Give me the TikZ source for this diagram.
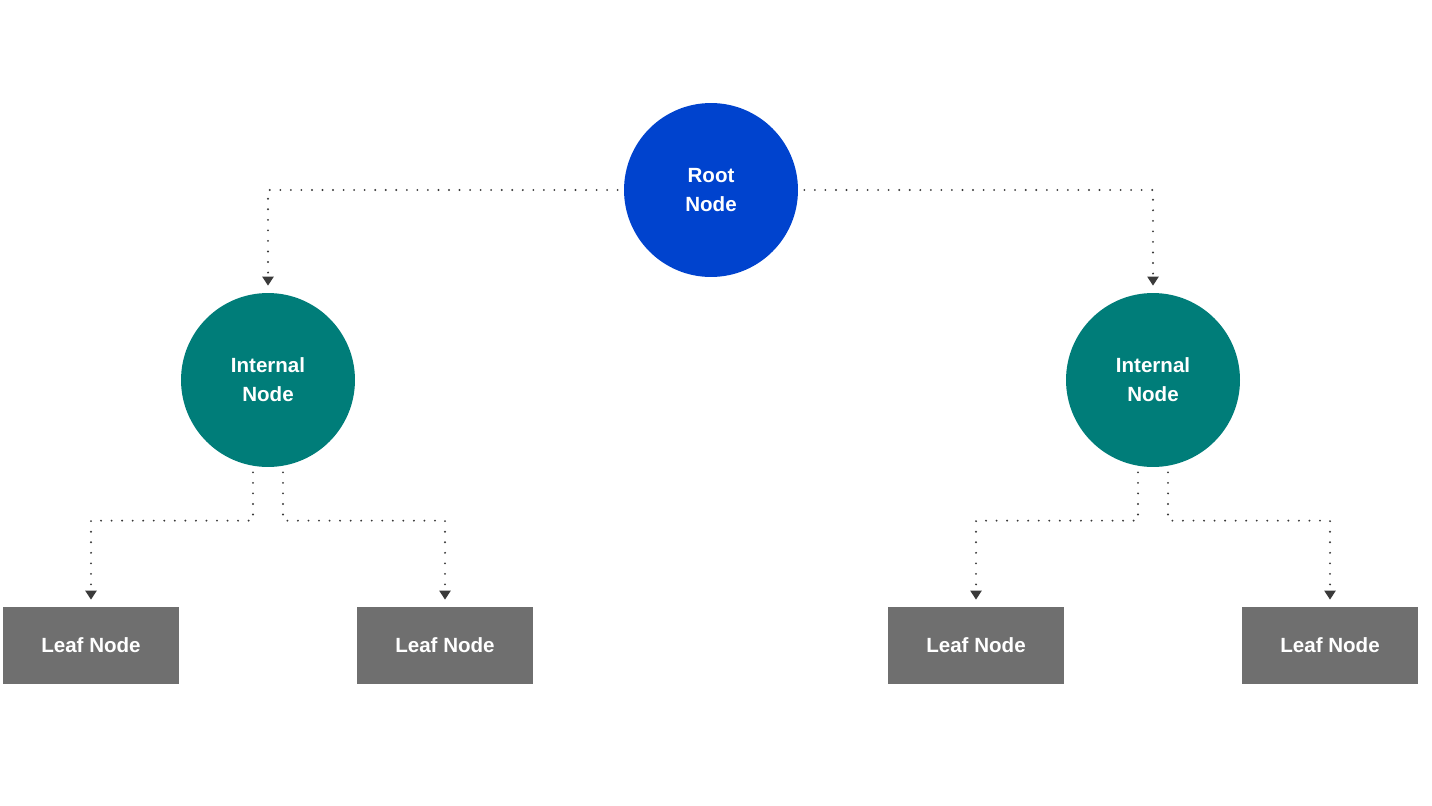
\documentclass[tikz,border=0pt]{standalone}
\usepackage{fontspec}
\setmainfont{Liberation Sans}
\usetikzlibrary{arrows.meta,calc}

\definecolor{rootblue}{HTML}{0043CE}
\definecolor{innerteal}{HTML}{007D79}
\definecolor{leafgray}{HTML}{6F6F6F}
\definecolor{linkgray}{HTML}{3A3A3A}

\begin{document}
\begin{tikzpicture}[x=0.02cm, y=-0.02cm,
    treenode/.style={text=white, font=\bfseries\fontsize{11.7}{16.4}\selectfont, align=center, inner sep=0pt},
    rootnode/.style={treenode, circle, fill=rootblue, minimum size=3.48cm},
    innernode/.style={treenode, circle, fill=innerteal, minimum size=3.48cm},
    leafnode/.style={treenode, rectangle, fill=leafgray, minimum width=3.52cm, minimum height=1.54cm},
    link/.style={draw=linkgray, line width=1.2pt, line cap=round, dash pattern=on 0pt off 6pt,
        -{Triangle[width=0.22cm,length=0.18cm]}, shorten >=0.14cm}]
    \useasboundingbox (0,0) rectangle (1432,805);

    % tree nodes
    \node[rootnode] (root) at (711,190) {Root\\Node};
    \node[innernode] (intL) at (268,380) {Internal\\Node};
    \node[innernode] (intR) at (1153,380) {Internal\\Node};

    \node[leafnode] (leafLL) at (91,645.5) {Leaf Node};
    \node[leafnode] (leafLR) at (445,645.5) {Leaf Node};
    \node[leafnode] (leafRL) at (976,645.5) {Leaf Node};
    \node[leafnode] (leafRR) at (1330,645.5) {Leaf Node};

    % root to internal
    \draw[link] ($(root.west)+(-6,0)$) -| (intL.north);
    \draw[link] ($(root.east)+(6,0)$) -| (intR.north);

    % internal to leaves
    \draw[link] ($(intL.south)+(-15,5)$) |- ($(leafLL.north)+(0,-86)$) -- (leafLL.north);
    \draw[link] ($(intL.south)+(15,5)$) |- ($(leafLR.north)+(0,-86)$) -- (leafLR.north);
    \draw[link] ($(intR.south)+(-15,5)$) |- ($(leafRL.north)+(0,-86)$) -- (leafRL.north);
    \draw[link] ($(intR.south)+(15,5)$) |- ($(leafRR.north)+(0,-86)$) -- (leafRR.north);
\end{tikzpicture}
\end{document}
